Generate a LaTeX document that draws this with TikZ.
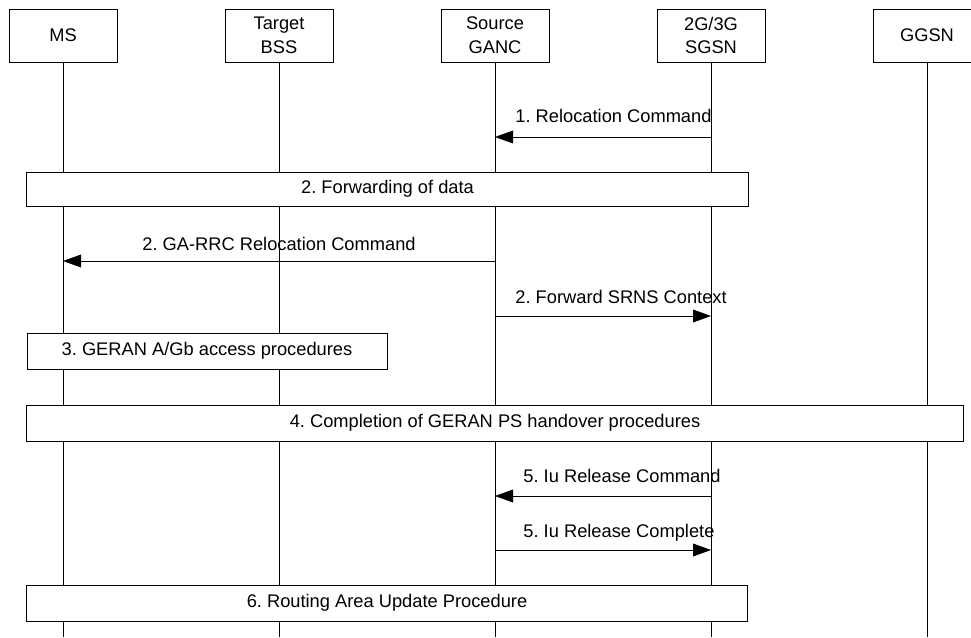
\documentclass[tikz,border=0pt]{standalone}
\usepackage{fontspec}
\setmainfont{Liberation Sans}
\usetikzlibrary{arrows.meta}
\frenchspacing

\begin{document}
\begin{tikzpicture}[
        x=0.025cm, y=-0.025cm, line width=0.6pt,
        font=\fontsize{13}{17}\selectfont,
        entity/.style={draw, fill=white, minimum width=2.7cm, minimum height=1.325cm,
                inner sep=0pt, align=center},
        phase/.style={draw, fill=white, minimum height=0.9cm, inner sep=0pt},
        msg/.style={-{Triangle[length=4.5mm, width=3.2mm]}},
        lbl/.style={anchor=base west, inner sep=0pt}
    ]
    \useasboundingbox (0,0) rectangle (971,637);

    \node[entity] (ms) at (63,35.5) {MS};
    \node[entity] (bss) at (279,35.5) {Target\\BSS};
    \node[entity] (ganc) at (495,35.5) {Source\\GANC};
    \node[entity] (sgsn) at (711,35.5) {2G/3G\\SGSN};
    \node[entity] (ggsn) at (927,35.5) {GGSN};

    % lifelines
    \draw (ms) -- (ms |- 0,637);
    \draw (bss) -- (bss |- 0,637);
    \draw (ganc) -- (ganc |- 0,637);
    \draw (sgsn) -- (sgsn |- 0,637);
    \draw (ggsn) -- (ggsn |- 0,637);

    \draw[msg] (sgsn |- 0,137) -- (ganc |- 0,137);
    \node[lbl] (m1) at (515,122) {1. Relocation Command};

    \node[phase, minimum width=18.025cm, minimum height=0.85cm] (fwd) at (387.5,189) {2. Forwarding of data};

    \draw[msg] (ganc |- 0,261) -- (ms |- 0,261);
    \node[anchor=base, inner sep=0pt] (m2) at (279,250) {2. GA-RRC Relocation Command};

    \draw[msg] (ganc |- 0,316) -- (sgsn |- 0,316);
    \node[lbl] (m3) at (515,303) {2. Forward SRNS Context};

    \node[phase, minimum width=9cm] (geran) at (207,351) {3. GERAN A/Gb access procedures};

    \node[phase, minimum width=23.4cm] (psho) at (495,423) {4. Completion of GERAN PS handover procedures};

    \draw[msg] (sgsn |- 0,496) -- (ganc |- 0,496);
    \node[lbl] (m4) at (523,482) {5. Iu Release Command};

    \draw[msg] (ganc |- 0,550) -- (sgsn |- 0,550);
    \node[lbl] (m5) at (523,537) {5. Iu Release Complete};

    \node[phase, minimum width=18cm] (rau) at (387,603) {6. Routing Area Update Procedure};
\end{tikzpicture}
\end{document}
